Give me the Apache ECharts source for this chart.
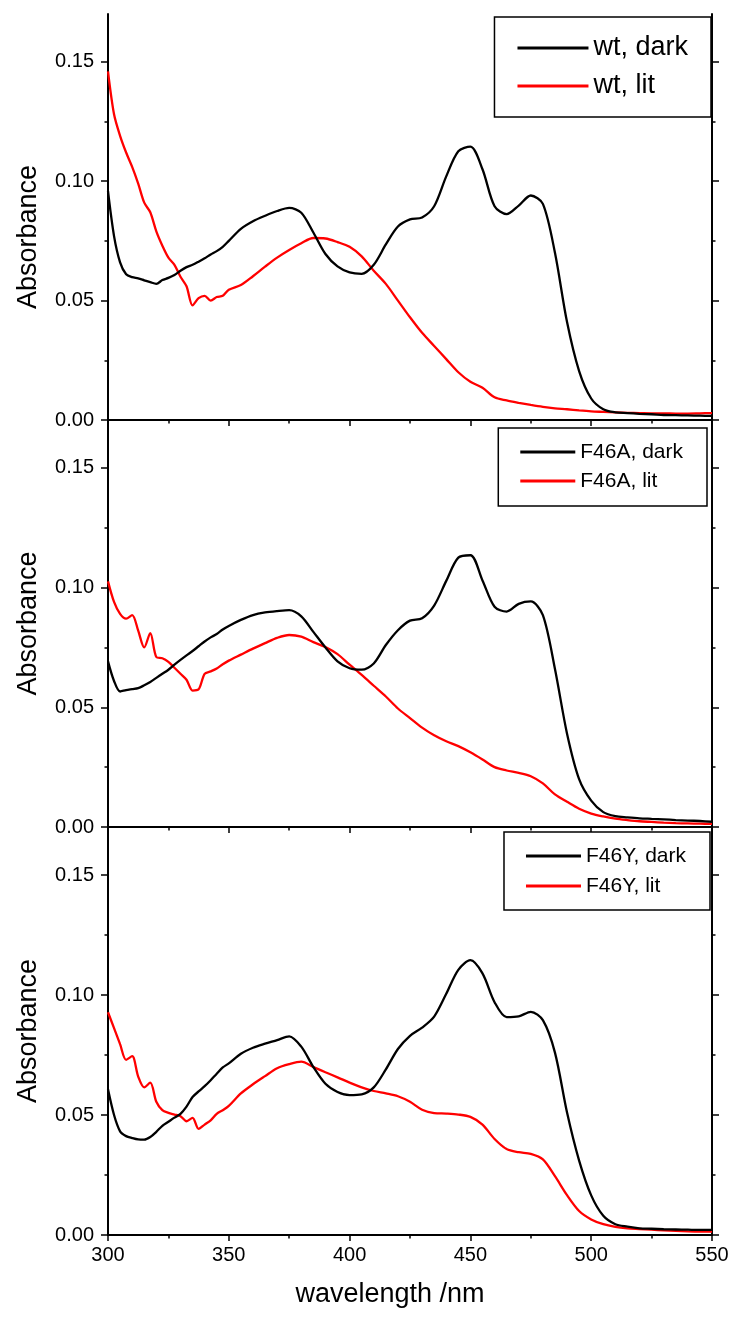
<!DOCTYPE html>
<html>
<head>
<meta charset="utf-8">
<script src="https://cdn.jsdelivr.net/npm/echarts@6/dist/echarts.min.js"></script>
<style>
  html, body { margin: 0; padding: 0; background: #ffffff; }
  #chart { width: 737px; height: 1320px; }
</style>
</head>
<body>
<div id="chart"></div>
<script>
// Wavelength grid (nm): 2.5 nm steps in the noisy UV region, 5 nm after that
const wavelengths = [
  300, 302.5, 305, 307.5, 310, 312.5, 315, 317.5, 320, 322.5, 325, 327.5, 330, 332.5, 335, 337.5, 340, 342.5, 345, 347.5, 350,
  355, 360, 365, 370, 375, 380, 385, 390, 395, 400, 405, 410, 415, 420, 425, 430, 435, 440, 445, 450,
  455, 460, 465, 470, 475, 480, 485, 490, 495, 500, 505, 510, 515, 520, 525, 530, 535, 540, 545, 550
];

// Absorbance spectra, one value per wavelength
const wtDark = [
  0.0958, 0.0770, 0.0660, 0.0610, 0.0598, 0.0593, 0.0585, 0.0577, 0.0570, 0.0586, 0.0595, 0.0607, 0.0625, 0.0640, 0.0650, 0.0663, 0.0677, 0.0693, 0.0707, 0.0725, 0.0750,
  0.0800, 0.0832, 0.0855, 0.0875, 0.0888, 0.0868, 0.0785, 0.0695, 0.0643, 0.0618, 0.0612, 0.0650, 0.0735, 0.0810, 0.0840, 0.0848, 0.0895, 0.1020, 0.1125, 0.1145,
  0.1050, 0.0895, 0.0862, 0.0898, 0.0940, 0.0905, 0.0700, 0.0410, 0.0205, 0.0090, 0.0045, 0.0032, 0.0029, 0.0026, 0.0024, 0.0021, 0.0020, 0.0019, 0.0018, 0.0017
];
const wtLit = [
  0.1460, 0.1280, 0.1190, 0.1120, 0.1060, 0.0990, 0.0910, 0.0870, 0.0790, 0.0730, 0.0680, 0.0650, 0.0600, 0.0560, 0.0480, 0.0510, 0.0520, 0.0500, 0.0515, 0.0520, 0.0545,
  0.0565, 0.0602, 0.0642, 0.0680, 0.0712, 0.0740, 0.0762, 0.0760, 0.0745, 0.0725, 0.0685, 0.0625, 0.0570, 0.0500, 0.0430, 0.0365, 0.0310, 0.0255, 0.0200, 0.0160,
  0.0135, 0.0095, 0.0082, 0.0072, 0.0063, 0.0055, 0.0049, 0.0045, 0.0040, 0.0036, 0.0034, 0.0032, 0.0030, 0.0029, 0.0028, 0.0028, 0.0027, 0.0027, 0.0028, 0.0029
];
const f46aDark = [
  0.0692, 0.0610, 0.0566, 0.0572, 0.0576, 0.0580, 0.0592, 0.0606, 0.0623, 0.0640, 0.0657, 0.0678, 0.0698, 0.0717, 0.0735, 0.0755, 0.0775, 0.0792, 0.0806, 0.0825, 0.0840,
  0.0865, 0.0885, 0.0896, 0.0902, 0.0906, 0.0880, 0.0815, 0.0750, 0.0692, 0.0663, 0.0657, 0.0683, 0.0760, 0.0822, 0.0862, 0.0872, 0.0925, 0.1028, 0.1125, 0.1135,
  0.1030, 0.0920, 0.0900, 0.0932, 0.0942, 0.0885, 0.0660, 0.0390, 0.0200, 0.0110, 0.0062, 0.0045, 0.0040, 0.0036, 0.0034, 0.0032, 0.0029, 0.0027, 0.0025, 0.0022
];
const f46aLit = [
  0.1026, 0.0940, 0.0890, 0.0870, 0.0885, 0.0820, 0.0750, 0.0810, 0.0710, 0.0705, 0.0690, 0.0665, 0.0640, 0.0615, 0.0570, 0.0575, 0.0640, 0.0650, 0.0662, 0.0680, 0.0695,
  0.0720, 0.0745, 0.0768, 0.0790, 0.0802, 0.0795, 0.0772, 0.0752, 0.0722, 0.0678, 0.0635, 0.0590, 0.0545, 0.0495, 0.0455, 0.0415, 0.0383, 0.0358, 0.0338, 0.0312,
  0.0282, 0.0250, 0.0236, 0.0226, 0.0212, 0.0182, 0.0136, 0.0105, 0.0076, 0.0056, 0.0044, 0.0035, 0.0029, 0.0024, 0.0021, 0.0018, 0.0016, 0.0015, 0.0014, 0.0013
];
const f46yDark = [
  0.0607, 0.0500, 0.0432, 0.0412, 0.0404, 0.0398, 0.0397, 0.0408, 0.0430, 0.0455, 0.0472, 0.0489, 0.0505, 0.0535, 0.0575, 0.0598, 0.0620, 0.0645, 0.0672, 0.0698, 0.0715,
  0.0755, 0.0780, 0.0797, 0.0812, 0.0828, 0.0785, 0.0700, 0.0630, 0.0596, 0.0583, 0.0586, 0.0615, 0.0690, 0.0775, 0.0830, 0.0864, 0.0910, 0.1005, 0.1105, 0.1145,
  0.1090, 0.0970, 0.0908, 0.0911, 0.0930, 0.0895, 0.0760, 0.0510, 0.0310, 0.0165, 0.0080, 0.0045, 0.0035, 0.0028, 0.0026, 0.0024, 0.0023, 0.0022, 0.0021, 0.0021
];
const f46yLit = [
  0.0928, 0.0862, 0.0795, 0.0730, 0.0745, 0.0660, 0.0615, 0.0635, 0.0555, 0.0520, 0.0509, 0.0502, 0.0495, 0.0474, 0.0488, 0.0442, 0.0460, 0.0478, 0.0505, 0.0520, 0.0538,
  0.0590, 0.0628, 0.0662, 0.0695, 0.0712, 0.0722, 0.0700, 0.0678, 0.0657, 0.0635, 0.0615, 0.0600, 0.0590, 0.0578, 0.0555, 0.0522, 0.0508, 0.0506, 0.0502, 0.0492,
  0.0460, 0.0400, 0.0358, 0.0345, 0.0338, 0.0315, 0.0245, 0.0166, 0.0100, 0.0065, 0.0045, 0.0034, 0.0028, 0.0025, 0.0022, 0.0019, 0.0017, 0.0015, 0.0014, 0.0014
];

const seriesNames = [
  ['wt, dark', 'wt, lit'],
  ['F46A, dark', 'F46A, lit'],
  ['F46Y, dark', 'F46Y, lit']
];
const spectra = [[wtDark, wtLit], [f46aDark, f46aLit], [f46yDark, f46yLit]];
const yMajorTicks = [0, 0.05, 0.10, 0.15];
const yMinorTicks = [0.025, 0.075, 0.125];
const xLabel = 'wavelength /nm';
const yLabel = 'Absorbance';

const FONT = '"Liberation Sans", Arial, sans-serif';
const AXIS_LINE = { show: true, lineStyle: { color: '#000', width: 2 } };

// Stacked panel geometry
const panelLayout = [
  { top: 14, height: 406, legend: { right: 26, top: 17, padding: [16, 23, 16, 23], itemWidth: 71, itemGap: 8, fontSize: 27, lineHeight: 30 }, namePad: [0, 40, 0, 0] },
  { top: 420, height: 407, legend: { right: 30, top: 428, padding: [12, 24, 13, 22], itemWidth: 55, itemGap: 5, fontSize: 21, lineHeight: 24 }, namePad: [0, 0, 0, 0] },
  { top: 827, height: 408, legend: { right: 27, top: 832, padding: [12, 24, 12, 22], itemWidth: 55, itemGap: 6, fontSize: 21, lineHeight: 24 }, namePad: [0, 0, 0, 0] }
];

const grids = [], xAxes = [], yAxes = [], series = [], legends = [];
const colors = ['#000000', '#ff0000'];

panelLayout.forEach((p, i) => {
  const isLast = i === panelLayout.length - 1;
  grids.push({ left: 108, width: 604, top: p.top, height: p.height });

  // bottom x axis (ticks outward) and top x axis (ticks inward)
  xAxes.push({
    type: 'value', gridIndex: i, position: 'bottom', min: 300, max: 550, interval: 50,
    axisLine: AXIS_LINE,
    axisTick: { show: true, length: 6, lineStyle: { color: '#000', width: 1.5 } },
    minorTick: { show: true, splitNumber: 2, length: 3.5, lineStyle: { color: '#000', width: 1.5 } },
    axisLabel: { show: isLast, margin: 10, fontSize: 20, fontFamily: FONT, color: '#000' },
    splitLine: { show: false },
    name: isLast ? xLabel : '', nameLocation: 'middle', nameGap: 46,
    nameTextStyle: { fontSize: 27, fontFamily: FONT, color: '#000', padding: [0, 40, 0, 0] }
  });
  xAxes.push({
    type: 'value', gridIndex: i, position: 'top', min: 300, max: 550, interval: 50,
    axisLine: AXIS_LINE,
    axisTick: { show: true, inside: true, length: 6, lineStyle: { color: '#000', width: 1.5 } },
    minorTick: { show: true, splitNumber: 2, length: 3.5, lineStyle: { color: '#000', width: 1.5 } },
    axisLabel: { show: false }, splitLine: { show: false }
  });

  const yBase = { type: 'value', gridIndex: i, min: 0, max: 0.17, splitLine: { show: false } };
  // left axis with labels and major ticks
  yAxes.push(Object.assign({}, yBase, {
    position: 'left',
    axisLine: AXIS_LINE,
    axisTick: { show: true, length: 7, customValues: yMajorTicks, lineStyle: { color: '#000', width: 1.5 } },
    axisLabel: { show: true, margin: 14, customValues: yMajorTicks, fontSize: 20, fontFamily: FONT, color: '#000',
      formatter: v => v.toFixed(2) },
    name: yLabel, nameLocation: 'middle', nameGap: 66,
    nameTextStyle: { fontSize: 27, fontFamily: FONT, color: '#000', padding: p.namePad }
  }));
  // left minor ticks
  yAxes.push(Object.assign({}, yBase, {
    position: 'left', axisLine: { show: false },
    axisTick: { show: true, length: 3.5, customValues: yMinorTicks, lineStyle: { color: '#000', width: 1.5 } },
    axisLabel: { show: false }
  }));
  // right axis (frame) with outward ticks
  yAxes.push(Object.assign({}, yBase, {
    position: 'right', axisLine: AXIS_LINE,
    axisTick: { show: true, length: 7, customValues: yMajorTicks, lineStyle: { color: '#000', width: 1.5 } },
    axisLabel: { show: false }
  }));
  yAxes.push(Object.assign({}, yBase, {
    position: 'right', axisLine: { show: false },
    axisTick: { show: true, length: 3.5, customValues: yMinorTicks, lineStyle: { color: '#000', width: 1.5 } },
    axisLabel: { show: false }
  }));

  [0, 1].forEach(k => {
    series.push({
      name: seriesNames[i][k],
      type: 'line',
      xAxisIndex: 2 * i,
      yAxisIndex: 4 * i,
      symbol: 'none',
      smooth: 0.3,
      clip: true,
      silent: true,
      z: k === 0 ? 3 : 2,
      lineStyle: { color: colors[k], width: 2.3 },
      itemStyle: { color: colors[k] },
      data: wavelengths.map((w, j) => [w, spectra[i][k][j]])
    });
  });

  const L = p.legend;
  legends.push({
    data: seriesNames[i].map(n => ({ name: n, icon: 'rect' })),
    orient: 'vertical',
    right: L.right, top: L.top,
    padding: L.padding,
    itemWidth: L.itemWidth, itemHeight: 3, itemGap: L.itemGap,
    borderColor: '#000', borderWidth: 1.5, borderRadius: 0,
    backgroundColor: '#ffffff',
    selectedMode: false,
    textStyle: { fontSize: L.fontSize, lineHeight: L.lineHeight, fontFamily: FONT, color: '#000' }
  });
});

const chart = echarts.init(document.getElementById('chart'), null, { renderer: 'canvas' });
chart.setOption({
  backgroundColor: '#ffffff',
  animation: false,
  grid: grids,
  xAxis: xAxes,
  yAxis: yAxes,
  legend: legends,
  series: series
});
</script>
</body>
</html>
